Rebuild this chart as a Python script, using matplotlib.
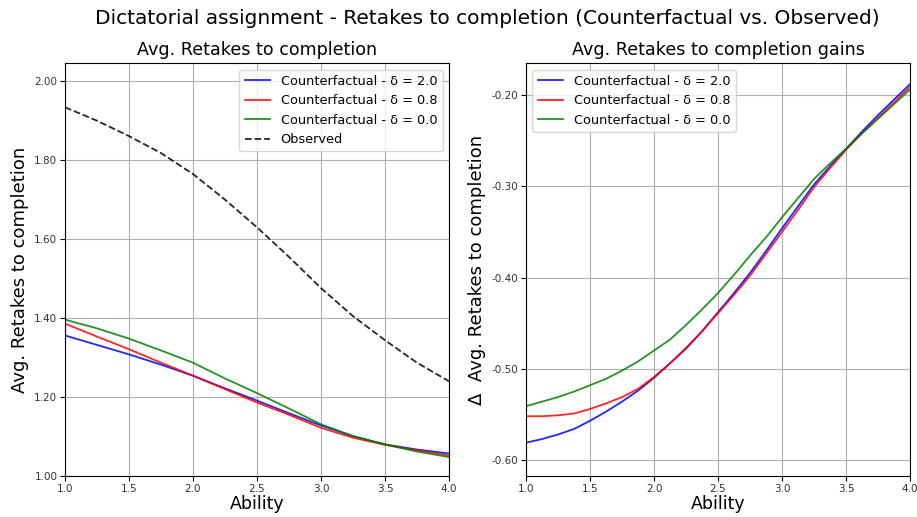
import numpy as np
import matplotlib
matplotlib.use("Agg")
import matplotlib.pyplot as plt
from matplotlib.ticker import FormatStrFormatter

# Data ------------------------------------------------------------------
ability = [1.0, 1.25, 1.5, 1.75, 2.0, 2.25, 2.5, 2.75, 3.0, 3.25, 3.5, 3.75, 4.0]

# Avg. retakes to completion
cf_d20 = [1.356, 1.332, 1.308, 1.282, 1.254, 1.222, 1.191, 1.159, 1.128, 1.101, 1.080, 1.067, 1.057]
cf_d08 = [1.386, 1.353, 1.321, 1.287, 1.254, 1.220, 1.186, 1.155, 1.122, 1.097, 1.079, 1.065, 1.052]
cf_d00 = [1.396, 1.374, 1.348, 1.318, 1.287, 1.247, 1.210, 1.171, 1.131, 1.101, 1.080, 1.062, 1.048]
observed = [1.934, 1.900, 1.861, 1.818, 1.765, 1.700, 1.630, 1.555, 1.476, 1.405, 1.344, 1.287, 1.240]

# Gains (counterfactual - observed), finer spacing
ability_g = [1.0, 1.125, 1.25, 1.375, 1.5, 1.625, 1.75, 1.875, 2.0, 2.125, 2.25, 2.375, 2.5,
             2.625, 2.75, 2.875, 3.0, 3.125, 3.25, 3.375, 3.5, 3.625, 3.75, 3.875, 4.0]
gain_d20 = [-0.581, -0.577, -0.572, -0.566, -0.557, -0.547, -0.536, -0.524, -0.510, -0.494,
            -0.478, -0.459, -0.438, -0.417, -0.395, -0.371, -0.346, -0.322, -0.298, -0.278,
            -0.259, -0.240, -0.222, -0.205, -0.188]
gain_d08 = [-0.552, -0.552, -0.551, -0.549, -0.544, -0.538, -0.531, -0.522, -0.509, -0.494,
            -0.477, -0.459, -0.439, -0.419, -0.398, -0.374, -0.350, -0.326, -0.301, -0.280,
            -0.260, -0.242, -0.225, -0.208, -0.191]
gain_d00 = [-0.541, -0.536, -0.531, -0.525, -0.518, -0.511, -0.502, -0.492, -0.480, -0.468,
            -0.452, -0.435, -0.417, -0.397, -0.376, -0.356, -0.334, -0.313, -0.292, -0.275,
            -0.259, -0.242, -0.226, -0.210, -0.194]

labels = ['Counterfactual - δ = 2.0', 'Counterfactual - δ = 0.8', 'Counterfactual - δ = 0.0']
colors = ['blue', 'red', 'green']

fig = plt.figure(figsize=(9.17, 5.17), dpi=100)
ax1 = fig.add_axes([0.0709, 0.0793, 0.4187, 0.7987])
ax2 = fig.add_axes([0.5736, 0.0793, 0.4188, 0.7987])

# Left panel ------------------------------------------------------------
for y, lab, c in zip([cf_d20, cf_d08, cf_d00], labels, colors):
    ax1.plot(ability, y, color=c, lw=1.3, alpha=0.85, label=lab)
ax1.plot(ability, observed, color='black', ls='--', lw=1.3, alpha=0.85, label='Observed')
ax1.set_xlim(1.0, 4.0)
ax1.set_ylim(1.0, 2.046)
ax1.set_yticks([1.0, 1.2, 1.4, 1.6, 1.8, 2.0])
ax1.set_title('Avg. Retakes to completion', fontsize=12.6)
ax1.set_xlabel('Ability', fontsize=12.5, labelpad=1)
ax1.set_ylabel('Avg. Retakes to completion', fontsize=13)
ax1.legend(loc='upper right', fontsize=9.3)

# Right panel -----------------------------------------------------------
for y, lab, c in zip([gain_d20, gain_d08, gain_d00], labels, colors):
    ax2.plot(ability_g, y, color=c, lw=1.3, alpha=0.85, label=lab)
ax2.set_xlim(1.0, 4.0)
ax2.set_ylim(-0.6175, -0.165)
ax2.set_yticks([-0.6, -0.5, -0.4, -0.3, -0.2])
ax2.set_title('Avg. Retakes to completion gains', fontsize=12.6)
ax2.set_xlabel('Ability', fontsize=12.5, labelpad=1)
ax2.set_ylabel('Δ  Avg. Retakes to completion', fontsize=13)
ax2.legend(loc='upper left', fontsize=9.3)

for ax in (ax1, ax2):
    ax.grid(color='#b0b0b0', lw=0.8)
    ax.yaxis.set_major_formatter(FormatStrFormatter('%.2f'))
    ax.tick_params(labelsize=7.5, labelcolor='#333333', pad=2)

fig.suptitle('Dictatorial assignment - Retakes to completion (Counterfactual vs. Observed)',
             fontsize=14.5, x=0.5316, y=0.982)
fig.savefig('out.png', dpi=100)
